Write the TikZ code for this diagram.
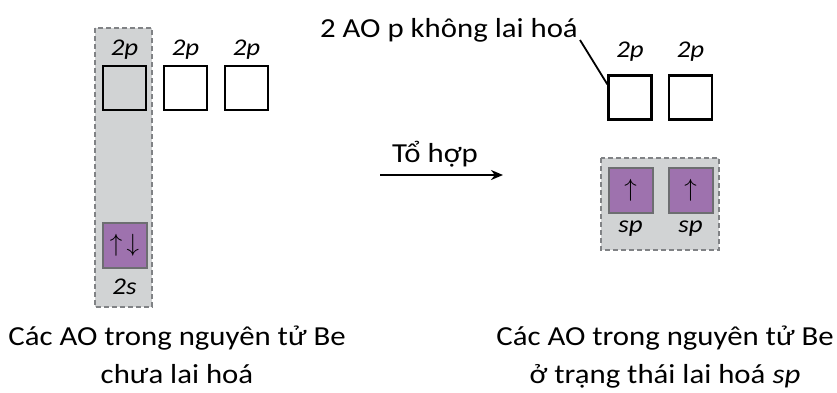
\documentclass[tikz,border=0pt]{standalone}
\usepackage{fontspec}
\setmainfont{Carlito}[FakeStretch=1.12]
\usetikzlibrary{arrows.meta}
\definecolor{shade}{HTML}{D1D3D4}
\definecolor{dashgray}{HTML}{808285}
\definecolor{orbpurple}{HTML}{9E72AE}
\definecolor{orbedge}{HTML}{6D6E71}
\newcommand{\spinup}{$\uparrow$}
\newcommand{\spinpair}{$\uparrow\,\downarrow$}
\tikzset{
  group/.style={draw=dashgray, fill=shade, dash pattern=on 5pt off 3pt, line width=1.6pt},
  emptyorb/.style={draw=black, line width=2.2pt, minimum width=43pt, minimum height=44pt, inner sep=0pt},
  fullorb/.style={draw=orbedge, fill=orbpurple, line width=2pt, minimum width=44pt, minimum height=45pt, inner sep=0pt, font=\fontsize{25}{25}\selectfont},
  sublabel/.style={font=\fontsize{24}{24}\selectfont\itshape, inner sep=0pt},
  bigtext/.style={font=\fontsize{27.5}{27.5}\selectfont, inner sep=0pt, anchor=base},
}
\begin{document}
\begin{tikzpicture}[x=1pt,y=-1pt]
\useasboundingbox (0,0) rectangle (837,392);
\fill[white] (0,0) rectangle (837,392);

% ground state of Be
\draw[group] (95,28) rectangle (152,307);
\node[emptyorb, fill=shade] (p1) at (124.5,88) {};
\node[emptyorb, fill=white] (p2) at (185.5,88) {};
\node[emptyorb, fill=white] (p3) at (246.5,88) {};
\node[sublabel] (lp1) at (124.5,50) {2p};
\node[sublabel] (lp2) at (185.5,50) {2p};
\node[sublabel] (lp3) at (246.5,50) {2p};
\node[fullorb] (s) at (124.5,245.5) {\spinpair};
\node[sublabel] (ls) at (124.5,287) {2s};

% combination arrow
\coordinate (a0) at (380,175);
\coordinate (a1) at (503,175);
\draw[line width=2.2pt, -{Stealth[length=12pt,width=10pt]}] (a0) -- (a1);
\node[bigtext] (mix) at (435,162) {Tổ hợp};

% hybridised state of Be
\draw[group] (601,158) rectangle (719,250);
\node[fullorb] (h1) at (630.5,190.5) {\spinup};
\node[fullorb] (h2) at (690.5,190.5) {\spinup};
\node[sublabel] (lh1) at (630.5,229) {sp};
\node[sublabel] (lh2) at (690.5,229) {sp};
\node[emptyorb] (q1) at (630,97.5) {};
\node[emptyorb] (q2) at (690.5,97.5) {};
\node[sublabel] (lq1) at (630,52) {2p};
\node[sublabel] (lq2) at (690.5,52) {2p};
\node[bigtext, anchor=base east] (note) at (578,37) {2 AO p không lai hoá};
\coordinate (tip) at ([shift={(0,10)}]q1.north west);
\draw[line width=1.8pt] ([shift={(2,3)}]note.base east) -- (tip);

% captions
\node[bigtext] (c1a) at (177,345) {Các AO trong nguyên tử Be};
\node[bigtext] (c1b) at (177,383) {chưa lai hoá};
\node[bigtext] (c2a) at (665,345) {Các AO trong nguyên tử Be};
\node[bigtext] (c2b) at (665,383) {ở trạng thái lai hoá \textit{sp}};
\end{tikzpicture}
\end{document}
